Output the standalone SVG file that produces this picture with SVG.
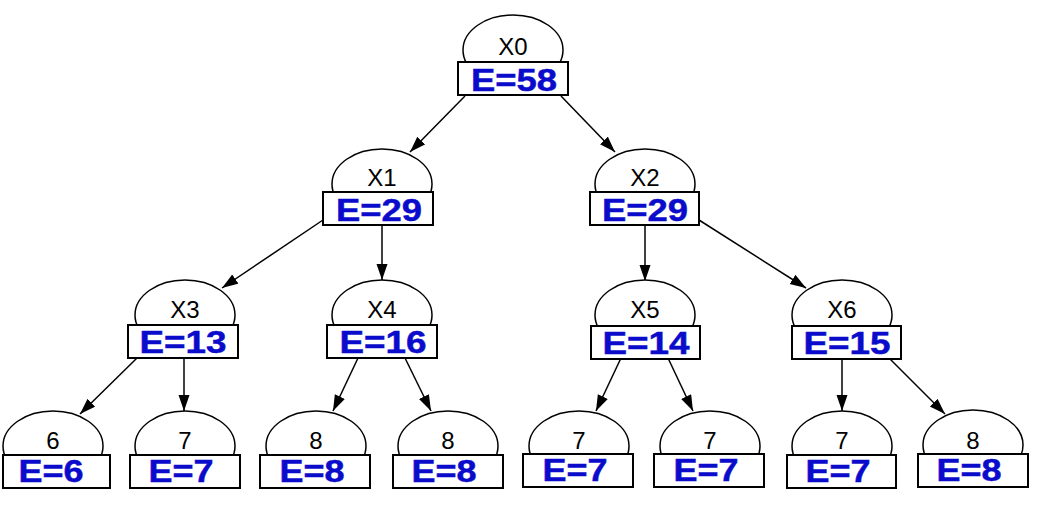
<svg xmlns="http://www.w3.org/2000/svg" width="1038" height="512" viewBox="0 0 1038 512">
<style>
  .ell { fill: #ffffff; stroke: #000000; stroke-width: 1.5; }
  .box { fill: #ffffff; stroke: #000000; stroke-width: 2; }
  .lbl { font-family: "Liberation Sans", Arial, sans-serif; font-size: 24px; fill: #000000; text-anchor: middle; }
  .e { font-family: "Liberation Sans", Arial, sans-serif; font-size: 32px; font-weight: bold; fill: #0b0bcc; stroke: #0b0bcc; stroke-width: 0.5; text-anchor: middle; }
  .edge { stroke: #000000; stroke-width: 1.5; fill: none; marker-end: url(#arr); }
</style>
<defs>
  <marker id="arr" markerUnits="userSpaceOnUse" markerWidth="17" markerHeight="12" refX="16" refY="5.5" orient="auto">
    <path d="M0,0 L16,5.5 L0,11 Z" fill="#000000"/>
  </marker>
</defs>
<rect width="1038" height="512" fill="#ffffff"/>
<g id="edges">
  <line class="edge" x1="465" y1="96" x2="410" y2="152"/>
  <line class="edge" x1="561" y1="96" x2="615" y2="152"/>
  <line class="edge" x1="323" y1="220" x2="222" y2="288"/>
  <line class="edge" x1="382" y1="225" x2="382" y2="280"/>
  <line class="edge" x1="645" y1="225" x2="645" y2="281"/>
  <line class="edge" x1="699" y1="220" x2="806" y2="288"/>
  <line class="edge" x1="137" y1="358" x2="80" y2="414"/>
  <line class="edge" x1="184" y1="358" x2="184" y2="411"/>
  <line class="edge" x1="358" y1="358" x2="333" y2="411"/>
  <line class="edge" x1="405" y1="358" x2="431" y2="411"/>
  <line class="edge" x1="621" y1="358" x2="596" y2="411"/>
  <line class="edge" x1="668" y1="358" x2="693" y2="411"/>
  <line class="edge" x1="842" y1="358" x2="842" y2="411"/>
  <line class="edge" x1="889" y1="358" x2="945" y2="414"/>
</g>
<g id="X0">
  <ellipse class="ell" cx="513" cy="50" rx="50" ry="35"/>
  <text class="lbl" x="513" y="55">X0</text>
  <rect class="box" x="458" y="62" width="110" height="33"/>
  <text class="e" x="514" y="91" textLength="86" lengthAdjust="spacingAndGlyphs">E=58</text>
</g>
<g id="X1">
  <ellipse class="ell" cx="382" cy="184" rx="50" ry="35"/>
  <text class="lbl" x="382" y="186">X1</text>
  <rect class="box" x="323" y="192" width="110" height="33"/>
  <text class="e" x="379" y="221" textLength="86" lengthAdjust="spacingAndGlyphs">E=29</text>
</g>
<g id="X2">
  <ellipse class="ell" cx="645" cy="184" rx="50" ry="35"/>
  <text class="lbl" x="645" y="186">X2</text>
  <rect class="box" x="590" y="192" width="109" height="33"/>
  <text class="e" x="645" y="221" textLength="86" lengthAdjust="spacingAndGlyphs">E=29</text>
</g>
<g id="X3">
  <ellipse class="ell" cx="185" cy="315" rx="50" ry="35"/>
  <text class="lbl" x="185" y="318">X3</text>
  <rect class="box" x="128" y="325" width="110" height="33"/>
  <text class="e" x="183" y="353" textLength="87" lengthAdjust="spacingAndGlyphs">E=13</text>
</g>
<g id="X4">
  <ellipse class="ell" cx="382" cy="315" rx="50" ry="35"/>
  <text class="lbl" x="382" y="318">X4</text>
  <rect class="box" x="327" y="325" width="110" height="33"/>
  <text class="e" x="383" y="353" textLength="87" lengthAdjust="spacingAndGlyphs">E=16</text>
</g>
<g id="X5">
  <ellipse class="ell" cx="645" cy="315" rx="50" ry="35"/>
  <text class="lbl" x="645" y="318">X5</text>
  <rect class="box" x="591" y="326" width="109" height="33"/>
  <text class="e" x="646" y="354" textLength="87" lengthAdjust="spacingAndGlyphs">E=14</text>
</g>
<g id="X6">
  <ellipse class="ell" cx="842" cy="315" rx="50" ry="35"/>
  <text class="lbl" x="842" y="318">X6</text>
  <rect class="box" x="792" y="326" width="109" height="33"/>
  <text class="e" x="847" y="354" textLength="87" lengthAdjust="spacingAndGlyphs">E=15</text>
</g>
<g id="L1">
  <ellipse class="ell" cx="53" cy="446" rx="50" ry="35"/>
  <text class="lbl" x="53" y="449">6</text>
  <rect class="box" x="3" y="455" width="107" height="33"/>
  <text class="e" x="51" y="482" textLength="65" lengthAdjust="spacingAndGlyphs">E=6</text>
</g>
<g id="L2">
  <ellipse class="ell" cx="185" cy="446" rx="50" ry="35"/>
  <text class="lbl" x="185" y="449">7</text>
  <rect class="box" x="130" y="455" width="110" height="33"/>
  <text class="e" x="181" y="482" textLength="65" lengthAdjust="spacingAndGlyphs">E=7</text>
</g>
<g id="L3">
  <ellipse class="ell" cx="316" cy="446" rx="50" ry="35"/>
  <text class="lbl" x="316" y="449">8</text>
  <rect class="box" x="260" y="455" width="110" height="33"/>
  <text class="e" x="312" y="482" textLength="65" lengthAdjust="spacingAndGlyphs">E=8</text>
</g>
<g id="L4">
  <ellipse class="ell" cx="448" cy="446" rx="50" ry="35"/>
  <text class="lbl" x="448" y="449">8</text>
  <rect class="box" x="393" y="455" width="110" height="33"/>
  <text class="e" x="444" y="482" textLength="65" lengthAdjust="spacingAndGlyphs">E=8</text>
</g>
<g id="L5">
  <ellipse class="ell" cx="579" cy="446" rx="50" ry="35"/>
  <text class="lbl" x="579" y="449">7</text>
  <rect class="box" x="523" y="454" width="110" height="33"/>
  <text class="e" x="575" y="481" textLength="65" lengthAdjust="spacingAndGlyphs">E=7</text>
</g>
<g id="L6">
  <ellipse class="ell" cx="710" cy="446" rx="50" ry="35"/>
  <text class="lbl" x="710" y="449">7</text>
  <rect class="box" x="654" y="454" width="110" height="33"/>
  <text class="e" x="706" y="481" textLength="65" lengthAdjust="spacingAndGlyphs">E=7</text>
</g>
<g id="L7">
  <ellipse class="ell" cx="842" cy="446" rx="50" ry="35"/>
  <text class="lbl" x="842" y="449">7</text>
  <rect class="box" x="787" y="455" width="109" height="33"/>
  <text class="e" x="838" y="482" textLength="65" lengthAdjust="spacingAndGlyphs">E=7</text>
</g>
<g id="L8">
  <ellipse class="ell" cx="973" cy="445" rx="50" ry="35"/>
  <text class="lbl" x="973" y="449">8</text>
  <rect class="box" x="918" y="454" width="110" height="33"/>
  <text class="e" x="969" y="481" textLength="65" lengthAdjust="spacingAndGlyphs">E=8</text>
</g>
</svg>
